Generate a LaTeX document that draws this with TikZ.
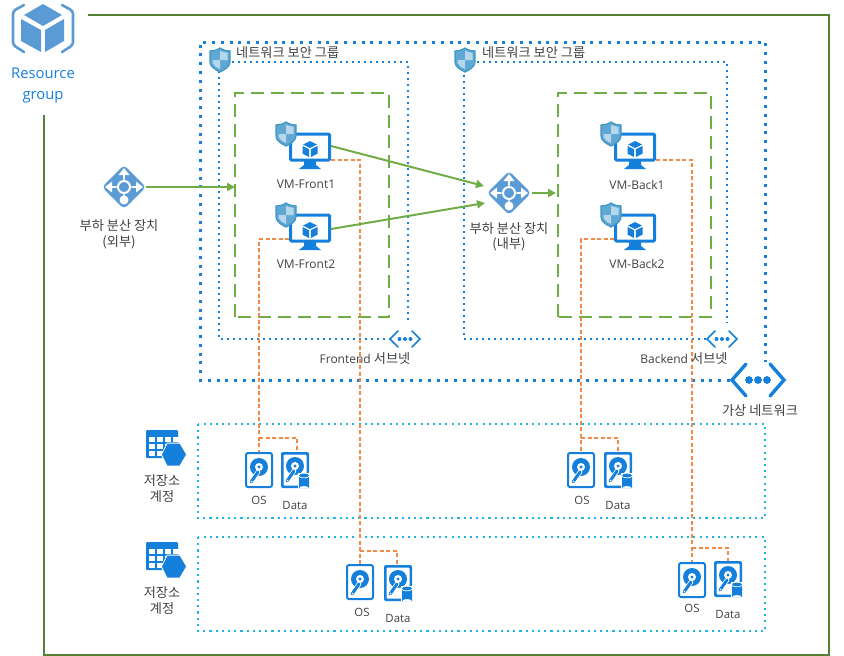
\documentclass[tikz,border=0pt]{standalone}
\usepackage{fontspec}
\setmainfont{Open Sans}
\newfontfamily\cjk{Noto Sans CJK KR}
\usetikzlibrary{arrows.meta}
\definecolor{azb}{HTML}{1580DC}
\definecolor{azl}{HTML}{5B9BD5}
\definecolor{shl}{HTML}{5FA8D3}
\definecolor{shb}{HTML}{3E97C4}
\definecolor{grn}{HTML}{70AD47}
\definecolor{dgrn}{HTML}{548235}
\definecolor{org}{HTML}{F08A45}
\definecolor{cyn}{HTML}{1EB4E6}
\definecolor{txt}{HTML}{404040}
\tikzset{
  x=1pt,y=-1pt,
  rg/.style={draw=dgrn,line width=2pt},
  vnetline/.style={draw=azb,line width=3pt,dash pattern=on 3pt off 5.8pt},
  subline/.style={draw=azb,line width=2pt,dash pattern=on 2pt off 4pt},
  storline/.style={draw=cyn,line width=2.1pt,dash pattern=on 2.1pt off 4.1pt},
  nsgbox/.style={draw=grn,line width=2.2pt,dash pattern=on 13pt off 7pt},
  flow/.style={draw=grn,line width=2pt,-{Triangle[length=8pt,width=8pt]}},
  disklink/.style={draw=org,line width=1.2pt,dash pattern=on 4pt off 2.5pt},
  lab/.style={font=\fontsize{12}{14}\selectfont,text=txt,align=center,inner sep=0pt},
  klab/.style={font=\cjk\fontsize{13.2}{15.5}\selectfont,text=txt,align=center,inner sep=0pt},
  dlab/.style={font=\fontsize{11.4}{13}\selectfont,text=txt,align=center,inner sep=0pt},
  anchorbox/.style={minimum width=#1,inner sep=0pt,outer sep=0pt},
  shieldicon/.pic={
    \fill[shl] (0,-12) .. controls (4,-9.5) and (7,-9) .. (10,-9) -- (10,2) .. controls (10,7) and (4,10) .. (0,12) .. controls (-4,10) and (-10,7) .. (-10,2) -- (-10,-9) .. controls (-7,-9) and (-4,-9.5) .. (0,-12) -- cycle;
    \fill[white,opacity=.55] (0,-9) -- (7.5,-7) -- (7.5,0) -- (0,0) -- cycle;
    \fill[white,opacity=.55] (0,0) -- (-7.5,0) -- (-7.5,3) .. controls (-6,6) and (-3,8) .. (0,9) -- cycle;
    \draw[shb,line width=1.2pt] (0,-12) .. controls (4,-9.5) and (7,-9) .. (10,-9) -- (10,2) .. controls (10,7) and (4,10) .. (0,12) .. controls (-4,10) and (-10,7) .. (-10,2) -- (-10,-9) .. controls (-7,-9) and (-4,-9.5) .. (0,-12) -- cycle;
  },
  vmicon/.pic={
    \draw[azb,line width=3pt,rounded corners=1pt] (-19.5,-17) rectangle (19.5,9);
    \fill[azb] (-6,9) -- (6,9) -- (6,14) -- (11,18) -- (-11,18) -- (-6,14) -- cycle;
    \fill[azb] (0,-10) -- (7,-6.5) -- (0,-3) -- (-7,-6.5) -- cycle;
    \fill[azb] (-7.5,-5) -- (-.8,-1.7) -- (-.8,6) -- (-7.5,2.7) -- cycle;
    \fill[azb] (7.5,-5) -- (.8,-1.7) -- (.8,6) -- (7.5,2.7) -- cycle;
  },
  lbicon/.pic={
    \fill[azl,rounded corners=4pt] (0,-22) -- (22,0) -- (0,22) -- (-22,0) -- cycle;
    \draw[white,line width=2.4pt] (-15,0) -- (15,0) (0,-15) -- (0,6);
    \fill[white] (0,-19) -- (5.5,-12) -- (-5.5,-12) -- cycle;
    \fill[white] (-19,0) -- (-12,-5.5) -- (-12,5.5) -- cycle;
    \fill[white] (19,0) -- (12,-5.5) -- (12,5.5) -- cycle;
    \fill[white] (0,13) circle (4.5);
    \draw[white,line width=2.4pt] (0,6) -- (0,12);
    \fill[azl] (0,0) circle (7.5);
    \draw[white,line width=2pt] (0,0) circle (6);
  },
  osdisk/.pic={
    \draw[azb,line width=2pt,fill=white,rounded corners=2pt] (-13,-17) rectangle (13,17);
    \fill[azb] (0,-3) circle (9);
    \fill[white] (0,-3) circle (4);
    \fill[azb] (0,-3) circle (1.6);
    \draw[white,line width=4.6pt,line cap=round] (-1,2) -- (-8,12);
    \draw[azb,line width=3pt,line cap=round] (-1,2) -- (-8,12);
    \fill[white] (-7.5,11.5) circle (.9);
  },
  datadisk/.pic={
    \fill[azb,rounded corners=2pt] (-14,-18) rectangle (14,18);
    \fill[white,rounded corners=1pt] (-11.5,-15.5) rectangle (11.5,15.5);
    \fill[azb] (0,-4) circle (9);
    \fill[white] (0,-4) circle (4);
    \fill[azb] (0,-4) circle (1.6);
    \draw[white,line width=4.6pt,line cap=round] (-1,1) -- (-8,11);
    \draw[azb,line width=3pt,line cap=round] (-1,1) -- (-8,11);
    \fill[white] (-7.5,10.5) circle (.9);
    \fill[white] (2.5,3) rectangle (15.5,19);
    \fill[azb] (4,5.5) rectangle (14,18) (4,18) arc (180:360:5 and 2);
    \fill[white] (9,5.5) ellipse (5.8 and 2.7);
    \fill[azb] (9,5.5) ellipse (5 and 2);
  },
  storageicon/.pic={
    \fill[azb,rounded corners=1pt] (-16,-17) rectangle (16,11);
    \foreach \cx in {-13,-5,3,11} \foreach \cy in {-10,-3,4}
      {\fill[white] (\cx,\cy) rectangle ++(6,5);}
    \fill[white] (-1,8) -- (5,-4.5) -- (18,-4.5) -- (25,8) -- (18,20.5) -- (5,20.5) -- cycle;
    \fill[azb] (0,7.5) -- (5.5,-3.5) -- (17.5,-3.5) -- (24,7.5) -- (17.5,18.5) -- (5.5,18.5) -- cycle;
  },
  bignet/.pic={
    \draw[azb,line width=3.4pt,line cap=round,line join=miter] (-12,-16) -- (-26,0) -- (-12,16);
    \draw[azb,line width=3.4pt,line cap=round,line join=miter] (12,-16) -- (26,0) -- (12,16);
    \foreach \d in {-9,0,9} {\fill[azb] (\d,0) circle (3.9);}
  },
  smallnet/.pic={
    \draw[azb,line width=1.6pt,line cap=round] (-7,-8) -- (-15,0) -- (-7,8);
    \draw[azb,line width=1.6pt,line cap=round] (7,-8) -- (15,0) -- (7,8);
    \foreach \d in {-5.5,0,5.5} {\fill[azb] (\d,0) circle (2);}
  },
}
\begin{document}
\begin{tikzpicture}
\useasboundingbox (0,0) rectangle (844,656);

% resource group border
\coordinate (rgA) at (88,15); \coordinate (rgB) at (829,15); \coordinate (rgC) at (829,655);
\coordinate (rgD) at (44,655); \coordinate (rgE) at (44,115);
\draw[rg] (rgA) -- (rgB) -- (rgC) -- (rgD) -- (rgE);
% resource group icon
\fill[azl] (43,4) -- (62,15) -- (43,26) -- (24,15) -- cycle;
\fill[azl] (21,19) -- (41,30) -- (41,52) -- (21,41) -- cycle;
\fill[azl] (45,30) -- (64,19) -- (64,41) -- (45,52) -- cycle;
\draw[azl,line width=2.6pt,line cap=round,rounded corners=3pt] (24,5) -- (13,11) -- (13,45) -- (24,52);
\draw[azl,line width=2.6pt,line cap=round,rounded corners=3pt] (62,5) -- (73,11) -- (73,45) -- (62,52);
\node[inner sep=0pt,align=center,text=azb,font=\fontsize{14.8}{21}\selectfont] (rgtext) at (43,85) {Resource\\group};

% vnet
\draw[vnetline] (730,380) -- (200,380) -- (200,42) -- (765,42) -- (765,362);
% NSG / subnet frames
\draw[subline] (391,339) -- (219,339) -- (219,72);
\draw[subline] (232,62) -- (408,62) -- (408,323);
\draw[subline] (706,339) -- (464,339) -- (464,72);
\draw[subline] (477,62) -- (727,62) -- (727,323);
% tier frames
\draw[nsgbox] (235,317) -- (235,93) -- (389,93) -- (389,317) -- cycle;
\draw[nsgbox] (558,317) -- (558,93) -- (711,93) -- (711,317) -- cycle;
% storage frames
\draw[storline] (198,424) rectangle (765,518);
\draw[storline] (198,537) rectangle (765,631);

% named anchors
\node[anchorbox=42pt,minimum height=36pt] (vmf1) at (310,151) {};
\node[anchorbox=42pt,minimum height=36pt] (vmf2) at (310,232) {};
\node[anchorbox=42pt,minimum height=36pt] (vmb1) at (635,151) {};
\node[anchorbox=42pt,minimum height=36pt] (vmb2) at (635,232) {};
\node[anchorbox=44pt,minimum height=44pt] (lbx) at (124,187) {};
\node[anchorbox=46pt,minimum height=46pt] (lbi) at (509,193) {};
\node[anchorbox=28pt,minimum height=36pt] (os1) at (259,470) {};
\node[anchorbox=28pt,minimum height=36pt] (dd1) at (295,470) {};
\node[anchorbox=28pt,minimum height=36pt] (os2) at (581,470) {};
\node[anchorbox=28pt,minimum height=36pt] (dd2) at (618,470) {};
\node[anchorbox=28pt,minimum height=36pt] (os3) at (360,582) {};
\node[anchorbox=28pt,minimum height=36pt] (dd3) at (398,583) {};
\node[anchorbox=28pt,minimum height=36pt] (os4) at (692,580) {};
\node[anchorbox=28pt,minimum height=36pt] (dd4) at (728,579) {};
\coordinate (frontedge) at (235,187);
\coordinate (backedge) at (556,193);

% orange links
\draw[disklink] ([yshift=-9pt]vmf1.east) -- (360,160) -- (os3.north);
\draw[disklink] ([yshift=-7pt]vmf2.west) -- (259,239) -- (os1.north);
\draw[disklink] ([yshift=-9pt]vmb1.east) -- (692,160) -- (os4.north);
\draw[disklink] ([yshift=-7pt]vmb2.west) -- (581,239) -- (os2.north);
\draw[disklink] (259,438) -- (297,438) -- ([xshift=2pt]dd1.north);
\draw[disklink] (581,438) -- (618,438) -- (dd2.north);
\draw[disklink] (360,551) -- (397,551) -- ([xshift=-1pt]dd3.north);
\draw[disklink] (692,548) -- (728,548) -- (dd4.north);

% green flows
\draw[flow] (lbx.east) -- (frontedge);
\draw[flow] ([yshift=5pt]vmf1.east) -- (484,186);
\draw[flow] ([yshift=3pt]vmf2.east) -- (485,203);
\draw[flow] (lbi.east) -- (backedge);

% icons
\pic at (220,60) {shieldicon};
\pic at (465,60) {shieldicon};
\foreach \nm/\px/\py in {vmf1/310/151,vmf2/310/232,vmb1/635/151,vmb2/635/232}{
  \pic at (\px,\py) {vmicon};
  \pic at (\px-24,\py-17) {shieldicon};
}
\pic at (lbx) {lbicon};
\pic at (lbi) {lbicon};
\pic at (os1) {osdisk}; \pic at (dd1) {datadisk};
\pic at (os2) {osdisk}; \pic at (dd2) {datadisk};
\pic at (os3) {osdisk}; \pic at (dd3) {datadisk};
\pic at (os4) {osdisk}; \pic at (dd4) {datadisk};
\pic at (162,447) {storageicon};
\pic at (162,559) {storageicon};
\pic at (758,380) {bignet};
\pic at (405,339) {smallnet};
\pic at (722,339) {smallnet};

% labels
\node[klab,anchor=west] (nsg1t) at (236,52.5) {네트워크 보안 그룹};
\node[klab,anchor=west] (nsg2t) at (482,52.5) {네트워크 보안 그룹};
\node[lab] (vmf1t) at (306,184) {VM-Front1};
\node[lab] (vmf2t) at (306,264) {VM-Front2};
\node[lab] (vmb1t) at (637,185) {VM-Back1};
\node[lab] (vmb2t) at (637,264) {VM-Back2};
\node[klab] (lbxt) at (119,234.5) {부하 분산 장치\\(외부)};
\node[klab] (lbit) at (509,237) {부하 분산 장치\\(내부)};
\node[lab] (fst) at (365,358.5) {Frontend {\cjk\fontsize{13.2}{14}\selectfont 서브넷}};
\node[lab] (bst) at (684,358.5) {Backend {\cjk\fontsize{13.2}{14}\selectfont 서브넷}};
\node[klab] (vnt) at (760,411) {가상 네트워크};
\node[klab] (st1) at (162,488.5) {저장소\\계정};
\node[klab] (st2) at (162,600.5) {저장소\\계정};
\node[dlab] at (259,500) {OS};
\node[dlab] at (295,505) {Data};
\node[dlab] at (582,500) {OS};
\node[dlab] at (618,505) {Data};
\node[dlab] at (362,612) {OS};
\node[dlab] at (398,618) {Data};
\node[dlab] at (692,608) {OS};
\node[dlab] at (728,614) {Data};
\end{tikzpicture}
\end{document}
